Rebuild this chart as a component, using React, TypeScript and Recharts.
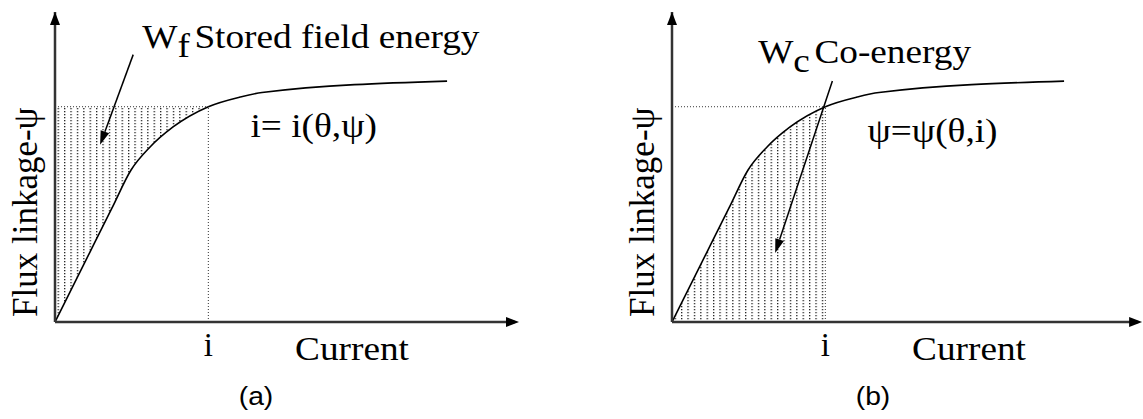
import React from 'react';
import { ComposedChart, Line, Area, XAxis, YAxis, ReferenceLine, ReferenceDot } from 'recharts';

// ---- data (arbitrary current / flux-linkage units) ----
const currentValues = [0, 2.28, 3.72, 4.96, 6.2, 7.7, 10, 12.07, 13.5, 25.57];
const fluxValues = [0, 3.25, 5.3, 7.06, 8.13, 9.06, 10, 10.45, 10.66, 11.19];
const operatingCurrent = 10;
const operatingFlux = 10;
const currentMaxes = [30, 30.4];
const fluxMax = 14.4;

const panelCaptions = ['(a)', '(b)'];
const curveLabels = ['i= i(\u03b8,\u03c8)', '\u03c8=\u03c8(\u03b8,i)'];
const energyMain = ['W', 'W'];
const energySub = ['f', 'c'];
const energyText = ['Stored field energy', 'Co-energy'];
const energyLabelAnchors = [{ x: 5.69, y: 12.74 }, { x: 5.62, y: 12.05 }];
const arrowFrom = [{ x: 5.1, y: 12.42 }, { x: 10.46, y: 11.2 }];
const arrowTo = [{ x: 2.94, y: 8.23 }, { x: 6.73, y: 3.21 }];
const curveLabelAnchors = [{ x: 12.75, y: 8.6 }, { x: 12.75, y: 8.37 }];
const xAxisTitle = 'Current';
const yAxisTitle = 'Flux linkage-\u03c8';
const tickLabel = 'i';

const curve = currentValues.map((c, k) => ({ current: c, flux: fluxValues[k] }));
const curveToOperating = curve.filter((d) => d.current <= operatingCurrent);

const SERIF = '"Liberation Serif", "Times New Roman", serif';
const SANS = '"Liberation Sans", Arial, sans-serif';
const STRETCH = 1.13;
const FS = 33;
const PX_PER_UNIT = 460 / 30;

const AxisArrowRight = (p: any) => (
  <path d={`M${p.cx + 4},${p.cy} L${p.cx - 9},${p.cy - 5} L${p.cx - 9},${p.cy + 5} Z`} fill="#000" />
);
const AxisArrowUp = (p: any) => (
  <path d={`M${p.cx},${p.cy} L${p.cx - 5},${p.cy + 13} L${p.cx + 5},${p.cy + 13} Z`} fill="#000" />
);

const PointerArrow = (p: any) => {
  const { x1, y1, x2, y2 } = p;
  const ang = Math.atan2(y2 - y1, x2 - x1);
  const len = 14;
  const w = 4.5;
  const bx = x2 - len * Math.cos(ang);
  const by = y2 - len * Math.sin(ang);
  const nx = -Math.sin(ang);
  const ny = Math.cos(ang);
  return (
    <g>
      <line x1={x1} y1={y1} x2={bx} y2={by} stroke="#000" strokeWidth={1.5} />
      <path d={`M${x2},${y2} L${bx + nx * w},${by + ny * w} L${bx - nx * w},${by - ny * w} Z`} fill="#000" />
    </g>
  );
};

function Panel({ idx }: { idx: number }) {
  const patternId = `dots-${idx}`;
  const currentMax = currentMaxes[idx];
  const plotWidth = currentMax * PX_PER_UNIT;
  const marginRight = 5;
  const chartWidth = 55 + plotWidth + marginRight;

  const EnergyLabel = (p: any) => (
    <text transform={`translate(${p.cx},${p.cy}) scale(${STRETCH},1)`} fontFamily={SERIF} fontSize={FS} fill="#000">
      <tspan>{energyMain[idx]}</tspan>
      <tspan dy={9}>{energySub[idx]}</tspan>
      <tspan dy={-9} dx={4}>{energyText[idx]}</tspan>
    </text>
  );
  const CurveLabel = (p: any) => (
    <text transform={`translate(${p.cx},${p.cy}) scale(${STRETCH},1)`} fontFamily={SERIF} fontSize={FS} fill="#000">
      {curveLabels[idx]}
    </text>
  );
  const XTitle = (p: any) => {
    const vb = p.viewBox || { x: 0, y: 0, width: 0 };
    return (
      <g>
        <text transform={`translate(${vb.x + 297},${vb.y + 38}) scale(${STRETCH},1)`} textAnchor="middle" fontFamily={SERIF} fontSize={FS} fill="#000">
          {xAxisTitle}
        </text>
        <text transform={`translate(${vb.x + 201},${vb.y + 83}) scale(${STRETCH},1)`} textAnchor="middle" fontFamily={SANS} fontSize={25} fill="#000">
          {panelCaptions[idx]}
        </text>
      </g>
    );
  };
  const YTitle = (p: any) => {
    const vb = p.viewBox || { x: 0, y: 0, width: 0, height: 0 };
    const x = vb.x + vb.width - 18;
    const y = vb.y + vb.height - 5;
    return (
      <text transform={`translate(${x},${y}) rotate(-90)`} fontFamily={SERIF} fontSize={35} fill="#000">
        {yAxisTitle}
      </text>
    );
  };

  return (
    <ComposedChart width={chartWidth} height={419} margin={{ top: 12, right: marginRight, bottom: 37, left: 0 }}>
      <defs>
        <pattern id={patternId} x={0} y={0} width={6.4} height={3} patternUnits="userSpaceOnUse">
          <rect x={0} y={0} width={1.3} height={1.3} fill="#222" />
        </pattern>
      </defs>
      <XAxis
        type="number"
        dataKey="current"
        domain={[0, currentMax]}
        allowDataOverflow
        ticks={[operatingCurrent]}
        tickFormatter={() => tickLabel}
        tickLine={false}
        tickSize={0}
        tickMargin={11}
        height={60}
        axisLine={{ stroke: '#333', strokeWidth: 2.5 }}
        tick={{ fontFamily: SERIF, fontSize: FS, fill: '#000' }}
        label={{ content: XTitle }}
      />
      <YAxis
        type="number"
        dataKey="flux"
        domain={[0, fluxMax]}
        allowDataOverflow
        tick={false}
        tickLine={false}
        width={55}
        axisLine={{ stroke: '#333', strokeWidth: 2.5 }}
        label={{ content: YTitle }}
      />
      {idx === 0 ? (
        <Area
          data={curveToOperating}
          dataKey={(d: any) => [d.flux, operatingFlux]}
          type="monotone"
          stroke="none"
          fill={`url(#${patternId})`}
          fillOpacity={1}
          isAnimationActive={false}
          activeDot={false}
        />
      ) : (
        <Area
          data={curveToOperating}
          dataKey="flux"
          baseValue={0}
          type="monotone"
          stroke="none"
          fill={`url(#${patternId})`}
          fillOpacity={1}
          isAnimationActive={false}
          activeDot={false}
        />
      )}
      <Line
        data={curve}
        dataKey="flux"
        type="monotone"
        stroke="#000"
        strokeWidth={1.6}
        dot={false}
        activeDot={false}
        isAnimationActive={false}
      />
      <ReferenceLine
        segment={[{ x: 0, y: operatingFlux }, { x: operatingCurrent, y: operatingFlux }]}
        stroke="#333"
        strokeWidth={1}
        strokeDasharray="1 2"
      />
      <ReferenceLine
        segment={[{ x: operatingCurrent, y: 0 }, { x: operatingCurrent, y: operatingFlux }]}
        stroke="#333"
        strokeWidth={1}
        strokeDasharray="1 2"
      />
      <ReferenceLine
        segment={[arrowFrom[idx], arrowTo[idx]]}
        ifOverflow="visible"
        shape={PointerArrow}
      />
      <ReferenceDot x={currentMax} y={0} r={0} ifOverflow="visible" shape={AxisArrowRight} />
      <ReferenceDot x={0} y={fluxMax} r={0} ifOverflow="visible" shape={AxisArrowUp} />
      <ReferenceDot x={energyLabelAnchors[idx].x} y={energyLabelAnchors[idx].y} r={0} ifOverflow="visible" shape={EnergyLabel} />
      <ReferenceDot x={curveLabelAnchors[idx].x} y={curveLabelAnchors[idx].y} r={0} ifOverflow="visible" shape={CurveLabel} />
    </ComposedChart>
  );
}

export default function App() {
  return (
    <div style={{ position: 'absolute', left: 0, top: 0, width: 1143, height: 419, background: '#fff', overflow: 'hidden' }}>
      <div style={{ position: 'absolute', left: 0, top: 0 }}>
        <Panel idx={0} />
      </div>
      <div style={{ position: 'absolute', left: 617, top: 0 }}>
        <Panel idx={1} />
      </div>
    </div>
  );
}
